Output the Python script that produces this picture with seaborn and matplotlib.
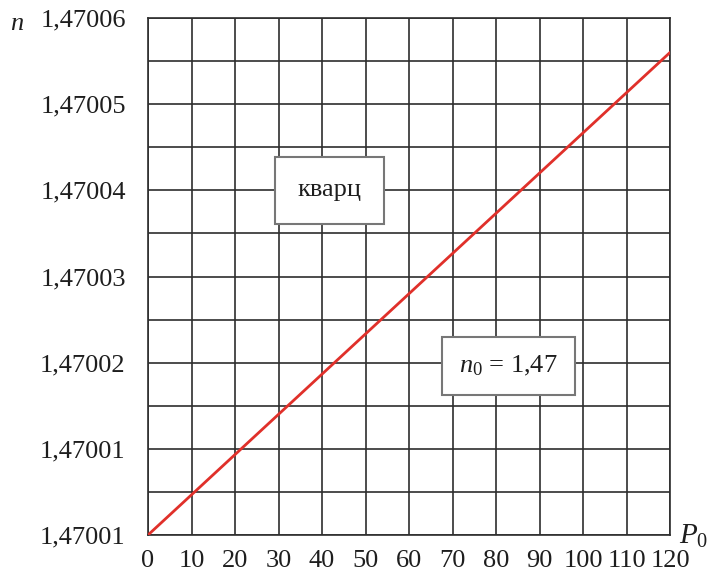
import numpy as np
import pandas as pd
import matplotlib
matplotlib.use("Agg")
import matplotlib.pyplot as plt
import seaborn as sns
from matplotlib.ticker import MultipleLocator

# data
P0 = [0, 120]
n_vals = [1.47000, 1.470056]
x_ticks = [0, 10, 20, 30, 40, 50, 60, 70, 80, 90, 100, 110, 120]
y_ticks = [1.47000, 1.47001, 1.47002, 1.47003, 1.47004, 1.47005, 1.47006]
y_tick_labels = ["1,47001", "1,47001", "1,47002", "1,47003", "1,47004", "1,47005", "1,47006"]
label_material = "кварц"
label_n0 = r"$n_0$ = 1,47"

sns.set_theme(style="white")
plt.rcParams['font.family'] = ['Liberation Serif', 'DejaVu Serif']
plt.rcParams['mathtext.fontset'] = 'custom'
plt.rcParams['mathtext.rm'] = 'Liberation Serif'
plt.rcParams['mathtext.it'] = 'Liberation Serif:italic'

fig = plt.figure(figsize=(7.10, 5.73), dpi=100)
ax = fig.add_axes([148/710, 1-535/573, (670-148)/710, (535-18)/573])

df = pd.DataFrame({"P0": P0, "n": n_vals})
sns.lineplot(data=df, x="P0", y="n", ax=ax, color="#e0302a", linewidth=2, zorder=3)

ax.set_xlim(0, 120)
ax.set_ylim(1.47000, 1.47006)
ax.set_xticks(x_ticks)
ax.set_xticklabels([str(v) for v in x_ticks])
ax.set_yticks(y_ticks)
ax.set_yticklabels(y_tick_labels)
ax.yaxis.set_minor_locator(MultipleLocator(0.000005))
ax.grid(True, which="both", color="#2e2e2e", linewidth=1.2)
ax.set_axisbelow(True)
ax.tick_params(axis="both", which="both", length=0, labelsize=19, colors="#1e1e1e")
ax.tick_params(axis="y", pad=16)
ax.tick_params(axis="x", pad=11)
for s in ax.spines.values():
    s.set_color("#2e2e2e")
    s.set_linewidth(1.2)
ax.set_xlabel("")
ax.set_ylabel("")

fig.text(17/710, 1-24/573, "n", fontsize=19, style="italic", ha="center", va="center", color="#1e1e1e")
fig.text(694/710, 1-536/573, r"$P_{\mathrm{0}}$", fontsize=21, ha="center", va="center", color="#1e1e1e")

ax.text(41.8, 1.470040, label_material, fontsize=19, ha="center", va="center",
        color="#1e1e1e", bbox=dict(boxstyle="square,pad=0.85", facecolor="white", edgecolor="#777777", linewidth=1.5), zorder=5)
ax.text(82.8, 1.4700196, label_n0, fontsize=19, ha="center", va="center",
        color="#1e1e1e", bbox=dict(boxstyle="square,pad=0.65", facecolor="white", edgecolor="#777777", linewidth=1.5), zorder=5)

fig.savefig("out.png", dpi=100)
